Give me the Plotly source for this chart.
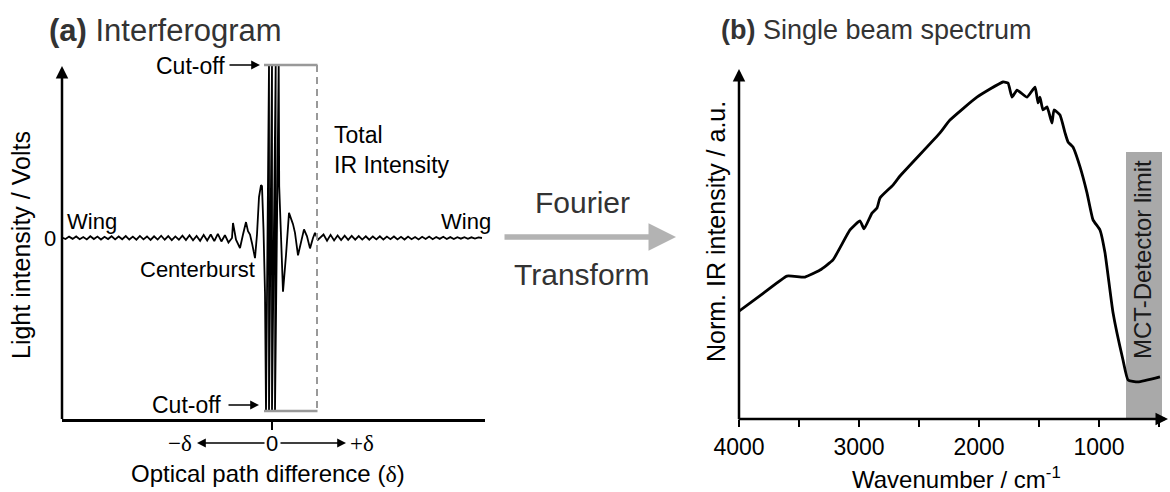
import numpy as np
import plotly.graph_objects as go

W, H = 1170, 492
FONT = "Liberation Sans, Arial, sans-serif"
SERIF = "Liberation Serif, Times New Roman, serif"

# ---------------- (a) interferogram data ----------------
# optical path difference in arbitrary units (0 = zero path difference),
# intensity in units where the detector cut-off is +/-100
left_wing = [0.3, -0.6, 0.8, -0.5, 0.9, -0.7, 0.6, -0.8, 1.0, -0.6, 0.8, -0.9,
             0.7, -0.6, 1.0, -0.8, 0.9, -0.7, 1.1, -0.9, 0.8, -1.0, 1.2, -0.8,
             0.9, -1.1, 1.0, -0.9, 1.3, -1.0, 1.1, -1.2, 0.9, -1.0, 1.4, -1.2,
             1.6, -1.3, 1.2, -1.6, 1.8, -1.4, 2.0, -1.8, 2.4, -2.0, 1.6, -2.6, 0.0]
right_wing = [0.0, 2.0, -1.6, 1.8, -1.4, 1.5, -1.2, 1.3, -1.1, 1.2, -1.0, 1.1,
              -0.9, 1.0, -1.0, 0.9, -0.8, 1.0, -0.9, 0.8, -0.7, 0.9, -0.8, 0.7,
              -0.9, 0.8, -0.7, 0.6, -0.8, 0.7, -0.6, 0.8, -0.7, 0.6, -0.5, 0.7,
              -0.6, 0.5, -0.6, 0.5, -0.4, 0.5, -0.5, 0.4, -0.3, 0.4, 0.0]
burst_delta = [-3.9, -3.6, -3.2, -2.9, -2.6, -2.4, -2.2, -2.0, -1.7, -1.5, -1.3,
               -1.1, -1.0, -0.85, -0.7, -0.6, -0.3, -0.3, 0.0, 0.0, 0.37, 0.3,
               0.67, 0.72, 1.1, 1.4, 1.7, 2.1, 2.3, 2.6, 2.9, 3.2, 3.5, 3.8,
               4.1, 4.3, 4.6]
burst_signal = [8.7, -1.0, -5.8, 2.0, 9.2, 4.0, 2.0, -3.0, -11.6, 2.0, 23.7,
                30.6, 30.0, 5.0, -32.0, -100, 100, -100, 100, -100, 100, -100,
                100, 30.0, -31.0, -10.0, 14.5, 8.0, 3.0, -10.0, -2.0, 5.0, 1.0,
                -6.0, 0.0, 3.0, -1.0]
CUTOFF = 100
DELTA_MIN, DELTA_MAX = -21.0, 21.3

# ---------------- (b) single beam spectrum data ----------------
wavenumber = [4000, 3783, 3600, 3450, 3325, 3217, 3075, 2992, 2958, 2892, 2850,
              2825, 2717, 2658, 2325, 2242, 2017, 1800, 1758, 1725, 1683, 1600,
              1533, 1508, 1492, 1467, 1433, 1392, 1375, 1325, 1283, 1258, 1217,
              1158, 1100, 1050, 992, 950, 883, 800, 758, 675, 492]
intensity = [0.320, 0.377, 0.424, 0.421, 0.442, 0.472, 0.561, 0.588, 0.564,
             0.611, 0.626, 0.656, 0.694, 0.721, 0.849, 0.887, 0.955, 1.000,
             0.997, 0.955, 0.976, 0.955, 0.985, 0.938, 0.955, 0.917, 0.926,
             0.878, 0.917, 0.902, 0.849, 0.822, 0.807, 0.748, 0.671, 0.591,
             0.561, 0.493, 0.315, 0.175, 0.116, 0.110, 0.125]
major_ticks = [4000, 3000, 2000, 1000]
minor_ticks = [3500, 2500, 1500, 500]
detector_limit = (775, 475)
detector_top = 0.792


def px(x, y):
    """pixel position -> paper coordinates"""
    return x / W, 1 - y / H


x_left = np.linspace(DELTA_MIN, -4.0, len(left_wing))
x_right = np.linspace(4.8, 21.0, len(right_wing))
delta = np.concatenate([x_left, burst_delta, x_right])
signal = np.concatenate([left_wing, burst_signal, right_wing])

fig = go.Figure()
fig.add_trace(go.Scatter(x=delta, y=signal, mode="lines",
                         line=dict(color="black", width=1.8),
                         xaxis="x", yaxis="y", hoverinfo="skip"))
fig.add_trace(go.Scatter(x=wavenumber, y=intensity, mode="lines",
                         line=dict(color="black", width=2.8, shape="spline",
                                   smoothing=0.4),
                         xaxis="x2", yaxis="y2", hoverinfo="skip"))

# axis domains (paper) from pixel extents
ya_dom = [1 - 419 / H, 1 - 60 / H]
fig.update_layout(
    width=W, height=H,
    margin=dict(l=0, r=0, t=0, b=0, pad=0, autoexpand=False),
    paper_bgcolor="white", plot_bgcolor="rgba(0,0,0,0)",
    showlegend=False, font=dict(family=FONT, color="black"),
    xaxis=dict(domain=[62 / W, 485 / W], range=[DELTA_MIN, DELTA_MAX],
               showgrid=False, zeroline=False, showline=True,
               linecolor="black", linewidth=2.5, ticks="outside",
               tickvals=[0], ticklen=8, tickwidth=2, tickcolor="black",
               showticklabels=False, anchor="y", automargin=False),
    yaxis=dict(domain=ya_dom, range=[-(419 - 238) / 1.73, (238 - 60) / 1.73],
               showgrid=False, zeroline=False, showline=False,
               showticklabels=False, ticks="", anchor="x", automargin=False),
    xaxis2=dict(domain=[739 / W, 1168.6 / W], range=[4000, 420],
                showgrid=False, zeroline=False, showline=False,
                tickvals=major_ticks, ticktext=[str(t) for t in major_ticks],
                ticks="outside", ticklen=7, tickwidth=2, tickcolor="black",
                tickfont=dict(size=23, family=FONT, color="black"),
                minor=dict(tickvals=minor_ticks, ticks="outside",
                           ticklen=7, tickwidth=2, tickcolor="black"),
                anchor="y2", automargin=False),
    yaxis2=dict(domain=ya_dom, range=[0, (419 - 60) / 337],
                showgrid=False, zeroline=False, showline=False,
                showticklabels=False, ticks="", anchor="x2", automargin=False),
)

shapes = []
# MCT detector limit band
shapes.append(dict(type="rect", xref="x2", yref="y2",
                   x0=detector_limit[0], x1=detector_limit[1],
                   y0=0, y1=detector_top, fillcolor="#a9a9a9",
                   line=dict(width=0), layer="below"))
# cut-off lines and total intensity bracket
for yv in (CUTOFF, -CUTOFF):
    shapes.append(dict(type="line", xref="x", yref="y", x0=-0.8, x1=4.55,
                       y0=yv, y1=yv, line=dict(color="#999999", width=2.5)))
shapes.append(dict(type="line", xref="x", yref="y", x0=4.5, x1=4.5,
                   y0=CUTOFF, y1=-CUTOFF,
                   line=dict(color="#999999", width=2, dash="7px,5px")))
fig.update_layout(shapes=shapes)

ann = []


def arrow(tip, tail, width=2.5, size=1.0, color="black", head=2):
    tx, ty = px(*tip)
    ann.append(dict(x=tx, y=ty, xref="paper", yref="paper", text="",
                    showarrow=True, ax=tail[0] - tip[0], ay=tail[1] - tip[1],
                    axref="pixel", ayref="pixel", arrowhead=head,
                    arrowsize=size, arrowwidth=width, arrowcolor=color,
                    standoff=0, startstandoff=0))


def label(text, x, y, size=22, color="black", angle=0, xanchor="center",
          family=FONT, align="center"):
    lx, ly = px(x, y)
    ann.append(dict(x=lx, y=ly, xref="paper", yref="paper", text=text,
                    showarrow=False, textangle=angle, xanchor=xanchor,
                    yanchor="middle", align=align,
                    font=dict(size=size, color=color, family=family)))


# axis arrows
arrow((62, 66), (62, 420.5), width=2.5, size=1.0)
arrow((1168, 419), (737, 419), width=2.5, size=1.0)
arrow((739, 69), (739, 420.5), width=2.5, size=1.0)

# cut-off arrows
arrow((260, 65), (228, 65), width=1.6, size=1.1)
arrow((259, 405), (227, 405), width=1.6, size=1.1)
# +/- delta arrows
arrow((197, 443), (266, 443), width=1.6, size=1.1)
arrow((346, 443), (279, 443), width=1.6, size=1.1)

# Fourier transform arrow
arrow((676, 237), (503, 237), width=5.5, size=1.0, color="#b3b3b3", head=2)

# titles
label("<b>(a)</b> Interferogram", 165, 30, size=31, color="#333333")
label("<b>(b)</b> Single beam spectrum", 876, 30, size=27, color="#333333")
label("Fourier", 582, 202, size=30, color="#333333")
label("Transform", 582, 274, size=30, color="#333333")

# panel (a) labels
label("Light intensity / Volts", 21, 245, size=25, angle=-90)
label("0", 50, 238, size=22)
label("Wing", 92, 222, size=22)
label("Wing", 466, 222, size=22)
label("Centerburst", 197, 269, size=22)
label("Cut-off", 190, 66, size=23)
label("Cut-off", 186, 405, size=23)
label("Total<br>IR Intensity", 332, 150, size=23, xanchor="left", align="left")
label("\u2212\u03b4", 180, 443, size=23, family=SERIF)
label("0", 272, 443, size=22)
label("+\u03b4", 362, 443, size=23, family=SERIF)
label("Optical path difference (<span style='font-family:Liberation Serif'>"
      "\u03b4</span>)", 268, 473, size=24)

# panel (b) labels
label("Norm. IR intensity / a.u.", 716, 232, size=25, angle=-90)
label("Wavenumber / cm<sup>-1</sup>", 956, 478, size=24)
label("MCT-Detector limit", 1142, 260, size=24, angle=-90, color="#1a1a1a")

fig.update_layout(annotations=ann)
fig.write_html("out.html")
